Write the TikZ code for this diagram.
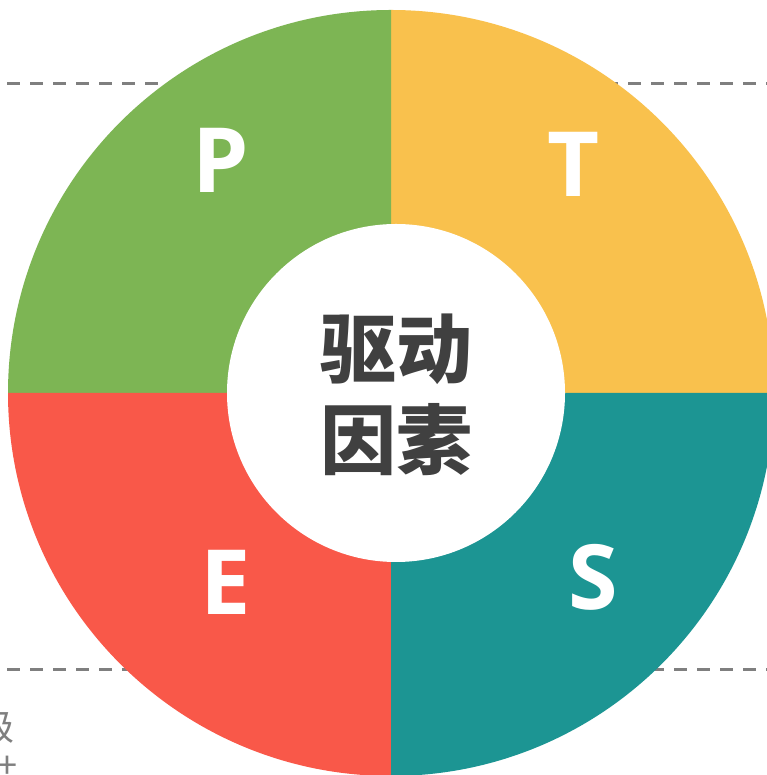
\documentclass[tikz,border=0pt]{standalone}
\usepackage{fontspec}
\setmainfont{Open Sans}
\newfontfamily\cjk{Noto Sans CJK SC}
\definecolor{cgreen}{HTML}{7DB554}
\definecolor{cyellow}{HTML}{F9C14D}
\definecolor{cteal}{HTML}{1C9593}
\definecolor{cred}{HTML}{F95849}
\definecolor{cgray}{HTML}{7F7F7F}
\definecolor{ctext}{HTML}{404040}
\tikzset{
  guide/.style={draw=cgray, line width=3pt, dash pattern=on 13pt off 10pt},
  letter/.style={text=white, inner sep=0pt, font=\bfseries\fontsize{90}{90}\selectfont},
  hub/.style={text=ctext, inner sep=0pt, font=\cjk\bfseries\fontsize{76}{76}\selectfont},
  side/.style={text=cgray, inner sep=0pt, font=\cjk\fontsize{36}{36}\selectfont}
}
\begin{document}
\begin{tikzpicture}[x=1pt,y=1pt]
\useasboundingbox (0,0) rectangle (766,775);
\fill[white] (0,0) rectangle (766,775);
\coordinate (g1a) at (7,691);
\coordinate (g1b) at (780,691);
\coordinate (g2a) at (7,105);
\coordinate (g2b) at (780,105);
\draw[guide] (g1a) -- (g1b);
\draw[guide] (g2a) -- (g2b);
\coordinate (c) at (391,382);
\fill[cyellow] (c) -- ++(0:383) arc[start angle=0, end angle=90, radius=383] -- cycle;
\fill[cgreen] (c) -- ++(90:383) arc[start angle=90, end angle=180, radius=383] -- cycle;
\fill[cred] (c) -- ++(180:383) arc[start angle=180, end angle=270, radius=383] -- cycle;
\fill[cteal] (c) -- ++(270:383) arc[start angle=270, end angle=360, radius=383] -- cycle;
\fill[white] (396,382) circle[radius=169];
\node[letter] (p) at (221,615) {P};
\node[letter] (t) at (574,611) {T};
\node[letter] (e) at (226,193) {E};
\node[letter] (s) at (593,198) {S};
\node[hub] (h1) at (396,426) {驱动};
\node[hub] (h2) at (396,335) {因素};
\node[side] (j) at (-3,48) {级};
\node[side] (k) at (7,8) {+};
\end{tikzpicture}
\end{document}
